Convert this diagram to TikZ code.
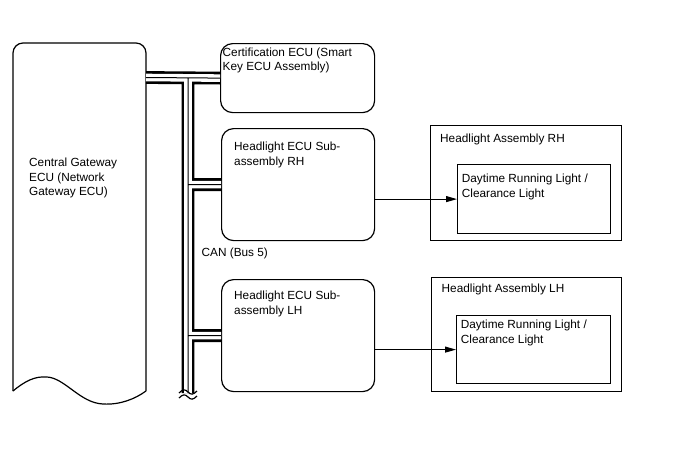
\documentclass[tikz,border=0pt]{standalone}
\usepackage{fontspec}
\setmainfont{Liberation Sans}
\usetikzlibrary{positioning, arrows.meta}

\begin{document}
\begin{tikzpicture}[x=1pt, y=-1pt,
    ecu/.style={draw, line width=1.2pt, rounded corners=12pt, anchor=north west, inner sep=0pt},
    assy/.style={draw, line width=1.2pt, anchor=north west, inner sep=0pt},
    lbl/.style={font=\fontsize{11.8}{14.5}\selectfont, align=left, inner sep=0pt},
    bus/.style={line width=12.8pt, postaction={draw, white, line width=7.6pt}, postaction={draw, black, line width=1pt}},
    arrow/.style={-{Triangle[length=11pt, width=6pt]}, line width=1pt}]
    \useasboundingbox (0,0) rectangle (688,463);
    % gateway
    \draw[line width=1.2pt, rounded corners=10pt] (13,391) -- (13,43) -- (146,43) -- (146,391);
    \draw[line width=1.2pt] (13,391) .. controls (25,381) and (35,376) .. (47,377)
        .. controls (65,378) and (80,403) .. (103,404) .. controls (120,405) and (135,399) .. (146,391);
    \node[lbl, anchor=north west] (gwlbl) at (29,158) {Central Gateway\\ECU (Network\\Gateway ECU)};
    % ecus
    \node[ecu, minimum width=154pt, minimum height=69pt] (cert) at (220,43) {};
    \node[ecu, minimum width=153pt, minimum height=112pt] (rhecu) at (221,128) {};
    \node[ecu, minimum width=153pt, minimum height=112pt] (lhecu) at (221,279) {};
    \node[lbl, below right=4.5pt and 2.5pt of cert.north west] (certlbl) {Certification ECU (Smart\\Key ECU Assembly)};
    \node[lbl, below right=14pt and 13pt of rhecu.north west] (rheculbl) {Headlight ECU Sub-\\assembly RH};
    \node[lbl, below right=12pt and 13pt of lhecu.north west] (lheculbl) {Headlight ECU Sub-\\assembly LH};
    % headlights
    \node[assy, minimum width=191pt, minimum height=115pt] (rhassy) at (430,125) {};
    \node[assy, minimum width=153pt, minimum height=69pt] (rhlamp) at (457,164) {};
    \node[assy, minimum width=190pt, minimum height=114pt] (lhassy) at (431,277) {};
    \node[assy, minimum width=154pt, minimum height=68pt] (lhlamp) at (456,315) {};
    \node[lbl, below right=9pt and 10pt of rhassy.north west] (rhassylbl) {Headlight Assembly RH};
    \node[lbl, below right=10pt and 4.7pt of rhlamp.north west] (rhlamplbl) {Daytime Running Light /\\Clearance Light};
    \node[lbl, below right=7pt and 10.5pt of lhassy.north west] (lhassylbl) {Headlight Assembly LH};
    \node[lbl, below right=5pt and 4.7pt of lhlamp.north west] (lhlamplbl) {Daytime Running Light /\\Clearance Light};
    \draw[arrow] (rhecu.east |- rhlamp.west) -- (rhlamp.west);
    \draw[arrow] (lhecu.east |- lhlamp.west) -- (lhlamp.west);
    % can bus
    \coordinate (gwport) at (146,77.5);
    \coordinate (bustop) at (188,77.5);
    \coordinate (busend) at (188,393);
    \draw[bus] (gwport) -- (cert.west) (bustop) -- (busend)
        (busend |- rhecu.west) -- (rhecu.west) (busend |- lhecu.west) -- (lhecu.west);
    \draw[line width=1.2pt] (179,393) .. controls (183,389) and (185,389) .. (188,392) .. controls (191,395) and (193,395) .. (197,391);
    \draw[line width=1.2pt] (179,398) .. controls (183,394) and (185,394) .. (188,397) .. controls (191,400) and (193,400) .. (197,396);
    \node[lbl, anchor=north west] (canlbl) at (201.5,247.5) {CAN (Bus 5)};
\end{tikzpicture}
\end{document}
